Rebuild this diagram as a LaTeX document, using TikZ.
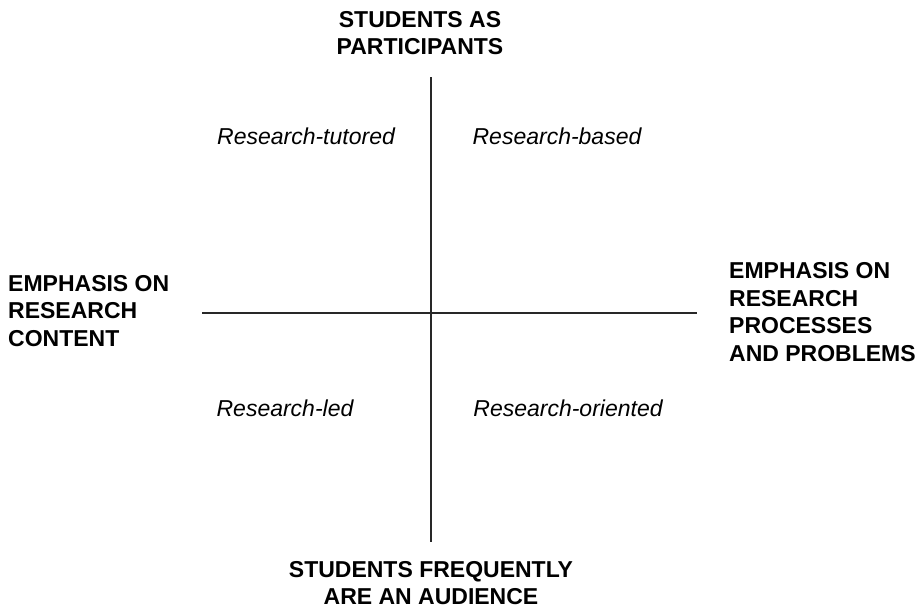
\documentclass[tikz,border=0pt]{standalone}
\usepackage{fontspec}
\setmainfont{Liberation Sans}
\usetikzlibrary{positioning}
\definecolor{axis-gray}{RGB}{40, 40, 40}
\tikzset{
  pole/.style={font=\fontsize{23}{27.5}\selectfont\bfseries, inner sep=0pt},
  quadrant/.style={font=\fontsize{23}{27.5}\selectfont\itshape, inner sep=0pt},
  axisline/.style={draw=axis-gray, line width=1.7pt}
}
\begin{document}
\begin{tikzpicture}[x=1pt,y=-1pt]
\useasboundingbox (0,0) rectangle (923,608);
% axes
\coordinate (top) at (431,77);
\coordinate (bottom) at (431,542);
\coordinate (left) at (202,313);
\coordinate (right) at (697,313);
\draw[axisline] (top) -- (bottom);
\draw[axisline] (left) -- (right);
% poles
\node[pole, align=center] (participants) at (420,33) {STUDENTS AS\\PARTICIPANTS};
\node[pole, align=center] (audience) at (431,583) {STUDENTS FREQUENTLY\\ARE AN AUDIENCE};
\node[pole, align=left, anchor=west] (content) at (8,311) {EMPHASIS ON\\RESEARCH\\CONTENT};
\node[pole, align=left, anchor=west] (processes) at (729,312) {EMPHASIS ON\\RESEARCH\\PROCESSES\\AND PROBLEMS};
% quadrants
\node[quadrant] (tutored) at (306,136) {Research-tutored};
\node[quadrant] (based) at (557,136) {Research-based};
\node[quadrant] (led) at (285,408) {Research-led};
\node[quadrant] (oriented) at (568,408) {Research-oriented};
\end{tikzpicture}
\end{document}
